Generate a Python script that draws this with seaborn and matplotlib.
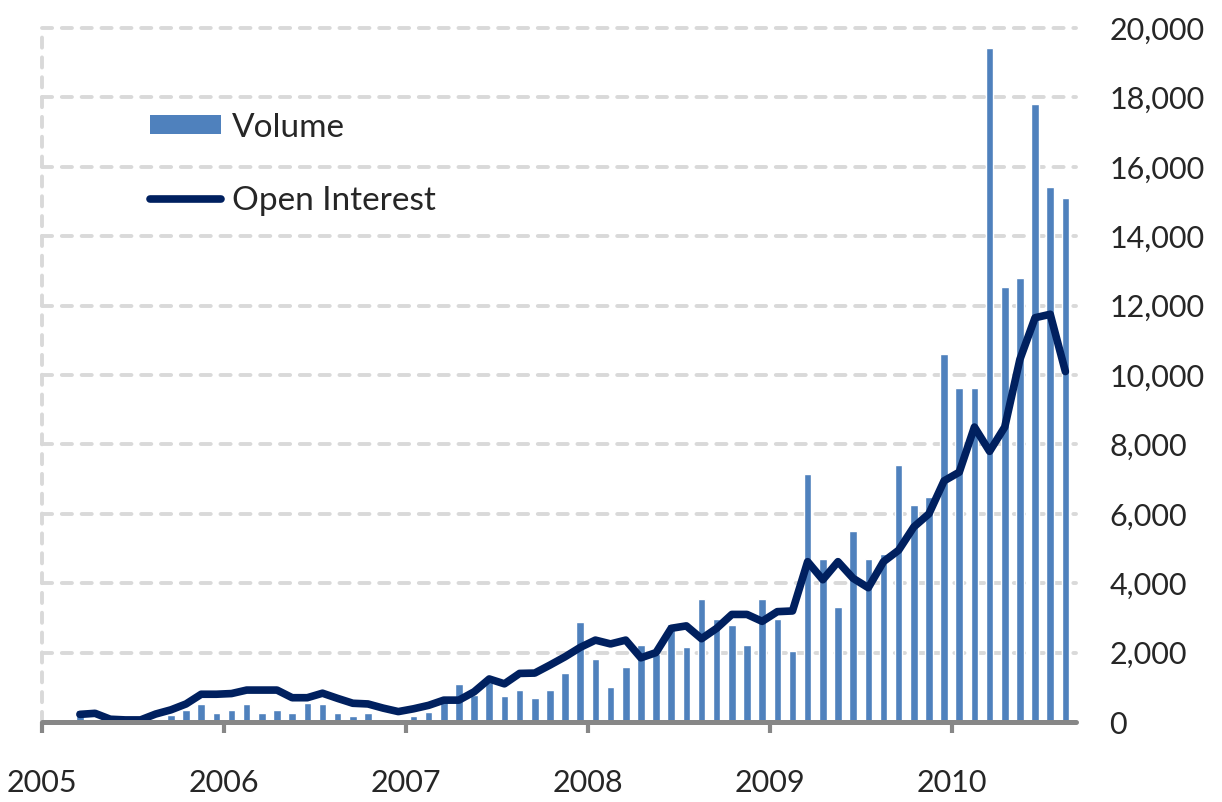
import numpy as np
import pandas as pd
import matplotlib
matplotlib.use("Agg")
import matplotlib.pyplot as plt
import seaborn as sns
from matplotlib.patches import Patch
from matplotlib.lines import Line2D
from matplotlib.ticker import FuncFormatter

# monthly data, Mar 2005 - Aug 2010
months = pd.period_range("2005-03", "2010-08", freq="M")
volume = [350, 100, 180, 50, 50, 100, 200, 350, 510, 270,
          350, 510, 270, 350, 270, 560, 510, 270, 180, 270,
          50, 100, 180, 300, 750, 1090, 780, 1150, 750, 920,
          690, 920, 1410, 2880, 1820, 1000, 1580, 2230, 1950, 2820,
          2160, 3540, 2970, 2800, 2230, 3540, 2970, 2060, 7140, 4690,
          3300, 5500, 4690, 4850, 7400, 6240, 6470, 10600, 9620, 9620,
          19430, 12550, 12800, 17800, 15420, 15100]
open_interest = [220, 250, 80, 60, 60, 230, 350, 520, 800, 800,
                 820, 920, 920, 920, 700, 700, 830, 680, 540, 520,
                 400, 300, 380, 480, 630, 630, 870, 1240, 1100, 1400,
                 1410, 1640, 1880, 2150, 2360, 2250, 2360, 1850, 2000, 2700,
                 2770, 2400, 2700, 3100, 3100, 2900, 3180, 3200, 4620, 4100,
                 4620, 4140, 3870, 4620, 4950, 5620, 6000, 6950, 7200, 8500,
                 7800, 8500, 10450, 11650, 11750, 10100]
years = ["2005", "2006", "2007", "2008", "2009", "2010"]

# x position in months since Jan 2005 (mid-month)
xpos = np.array([(m.year - 2005) * 12 + m.month - 1 + 0.5 for m in months])
df = pd.DataFrame({"x": xpos, "Volume": volume, "Open Interest": open_interest})

sns.set_style("white")
plt.rcParams["font.family"] = ["Lato", "DejaVu Sans"]

fig = plt.figure(figsize=(12.22, 8.02), dpi=100)
ax = fig.add_axes([42 / 1222, 1 - 722 / 802, (1076 - 42) / 1222, (722 - 28) / 802])

bar_color = "#4F81BD"
line_color = "#00205F"
grid_color = "#D9D9D9"

ax.set_ylim(0, 20000)
ax.set_xlim(0, 68.2)

for yv in range(2000, 20001, 2000):
    ax.axhline(yv, color=grid_color, lw=2.8, ls=(0, (2.6, 2.5)),
               dash_capstyle="round", zorder=0, clip_on=False)
ax.axvline(0, color=grid_color, lw=2.8, ls=(0, (2.6, 2.5)),
           dash_capstyle="round", zorder=0, clip_on=False)

sns.barplot(data=df, x="x", y="Volume", native_scale=True, width=0.5,
            color=bar_color, saturation=1, ax=ax, zorder=2)
sns.lineplot(data=df, x="x", y="Open Interest", color=line_color, lw=5.5,
             ax=ax, zorder=3, solid_capstyle="round", solid_joinstyle="round")

for s in ["top", "right", "left"]:
    ax.spines[s].set_visible(False)
ax.spines["bottom"].set_color("#878787")
ax.spines["bottom"].set_linewidth(3.6)
ax.spines["bottom"].set_capstyle("round")
ax.spines["bottom"].set_zorder(4)

ax.set_xticks([0, 12, 24, 36, 48, 60])
ax.set_xticklabels(years)
ax.tick_params(axis="x", direction="out", length=8, width=3, color="#878787",
               labelsize=22, pad=26, bottom=True)

ax.yaxis.tick_right()
ax.set_yticks(range(0, 20001, 2000))
ax.yaxis.set_major_formatter(FuncFormatter(lambda v, p: f"{int(v):,}"))
ax.tick_params(axis="y", length=0, labelsize=22, pad=24, right=False)
for lab in ax.get_yticklabels():
    lab.set_horizontalalignment("left")
ax.set_xlabel("")
ax.set_ylabel("")

handles = [Patch(facecolor=bar_color, edgecolor="none", label="Volume"),
           Line2D([], [], color=line_color, lw=5.5, label="Open Interest")]
ax.legend(handles=handles, loc="upper left", bbox_to_anchor=(0.104, 0.878),
          frameon=False, fontsize=24, handlelength=2.15, handletextpad=0.33,
          handleheight=0.5, labelspacing=1.3, borderaxespad=0, borderpad=0)

fig.savefig("out.png", dpi=100)
